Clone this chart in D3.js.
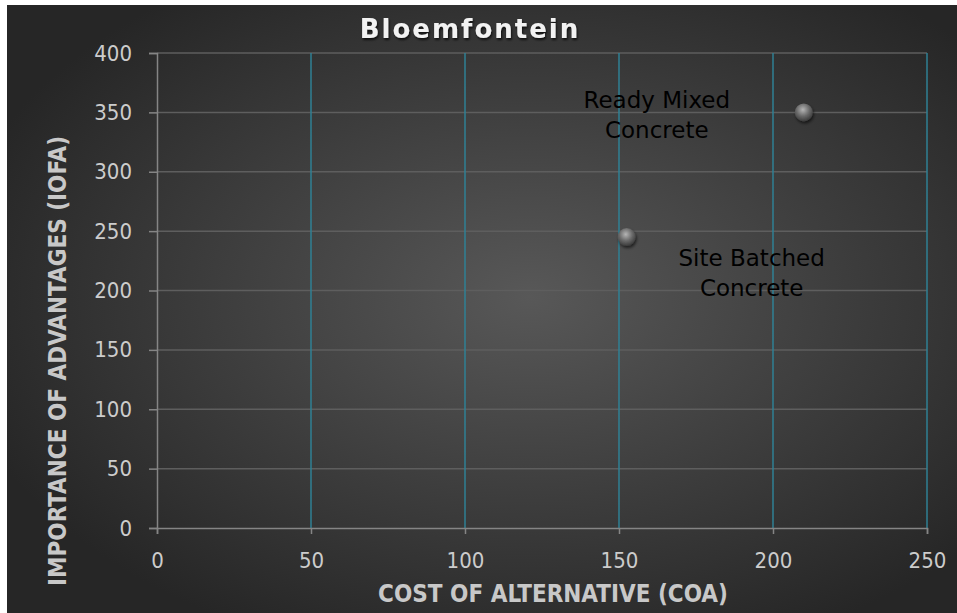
<!DOCTYPE html>
<html>
<head>
<meta charset="utf-8">
<script src="https://cdn.jsdelivr.net/npm/d3@7"></script>
<style>
  html, body { margin: 0; padding: 0; background: #ffffff; }
  svg { display: block; }
</style>
</head>
<body>
<svg id="chart" width="957" height="613"></svg>
<script>
// Alternatives plotted: cost of alternative (COA) vs importance of advantages (IOFA)
const names = ["Ready Mixed Concrete", "Site Batched Concrete"];
const coa = [210, 152.5];
const iofa = [350, 245];
const xTicks = [0, 50, 100, 150, 200, 250];
const yTicks = [0, 50, 100, 150, 200, 250, 300, 350, 400];

const W = 957, H = 613;
const margin = { left: 157, right: 30, top: 53, bottom: 85 };

const svg = d3.select("#chart");
const defs = svg.append("defs");

// Dark backdrop, lighter toward the middle
const bg = defs.append("radialGradient").attr("id", "bg")
  .attr("cx", "55%").attr("cy", "48%").attr("r", "62%");
bg.append("stop").attr("offset", "0%").attr("stop-color", "#585858");
bg.append("stop").attr("offset", "100%").attr("stop-color", "#262626");

// Marker shading
const ball = defs.append("radialGradient").attr("id", "ball")
  .attr("cx", "45%").attr("cy", "35%").attr("r", "65%");
ball.append("stop").attr("offset", "0%").attr("stop-color", "#b5b5b5");
ball.append("stop").attr("offset", "55%").attr("stop-color", "#6a6a6a");
ball.append("stop").attr("offset", "100%").attr("stop-color", "#3a3a3a");

const shadow = defs.append("filter").attr("id", "shadow")
  .attr("x", "-50%").attr("y", "-50%").attr("width", "200%").attr("height", "200%");
shadow.append("feDropShadow").attr("dx", 1).attr("dy", 2).attr("stdDeviation", 1.5)
  .attr("flood-color", "#000").attr("flood-opacity", 0.6);

const tshadow = defs.append("filter").attr("id", "tshadow");
tshadow.append("feDropShadow").attr("dx", 1).attr("dy", 2).attr("stdDeviation", 1.2)
  .attr("flood-color", "#000").attr("flood-opacity", 0.7);

svg.append("rect").attr("x", 7).attr("y", 5).attr("width", W - 7).attr("height", H - 5)
  .attr("fill", "url(#bg)");

const x = d3.scaleLinear().domain([0, 250]).range([margin.left, W - margin.right]);
const y = d3.scaleLinear().domain([0, 400]).range([H - margin.bottom, margin.top]);

// Horizontal gridlines
svg.append("g").selectAll("line").data(yTicks.filter(d => d > 0)).join("line")
  .attr("x1", x(0)).attr("x2", x(250))
  .attr("y1", d => y(d)).attr("y2", d => y(d))
  .attr("stroke", "#5e5e5e").attr("stroke-width", 1.5);

// Vertical gridlines
svg.append("g").selectAll("line").data(xTicks.filter(d => d > 0)).join("line")
  .attr("x1", d => x(d)).attr("x2", d => x(d))
  .attr("y1", y(400)).attr("y2", y(0))
  .attr("stroke", "#2f8094").attr("stroke-width", 1.5);

const fontTick = "'DejaVu Sans Condensed', 'DejaVu Sans', sans-serif";

// Axes
const xAxis = svg.append("g").attr("transform", `translate(0,${y(0)})`)
  .call(d3.axisBottom(x).tickValues(xTicks).tickSize(6).tickPadding(18));
const yAxis = svg.append("g").attr("transform", `translate(${x(0)},0)`)
  .call(d3.axisLeft(y).tickValues(yTicks).tickSize(8).tickPadding(17));

[xAxis, yAxis].forEach(g => {
  g.select(".domain").attr("stroke", "#858585").attr("stroke-width", 1.5);
  g.selectAll(".tick line").attr("stroke", "#858585").attr("stroke-width", 1.5);
  g.selectAll(".tick text").attr("fill", "#cccccc")
    .attr("font-family", fontTick).attr("font-size", 22);
});

// Title
svg.append("text").attr("x", 470).attr("y", 38).attr("text-anchor", "middle")
  .attr("fill", "#f2f2f2").attr("font-family", "'DejaVu Sans', sans-serif")
  .attr("font-weight", "bold").attr("font-size", 26).attr("letter-spacing", 2)
  .attr("filter", "url(#tshadow)").text("Bloemfontein");

// Axis titles
svg.append("text").attr("x", 553).attr("y", 602).attr("text-anchor", "middle")
  .attr("fill", "#c8c8c8").attr("font-family", fontTick)
  .attr("font-weight", "bold").attr("font-size", 24)
  .text("COST OF ALTERNATIVE (COA)");

svg.append("text").attr("transform", "translate(66,361) rotate(-90)")
  .attr("text-anchor", "middle")
  .attr("fill", "#c8c8c8").attr("font-family", fontTick)
  .attr("font-weight", "bold").attr("font-size", 24)
  .text("IMPORTANCE OF ADVANTAGES (IOFA)");

// Points
svg.append("g").selectAll("circle").data(d3.range(names.length)).join("circle")
  .attr("cx", i => x(coa[i])).attr("cy", i => y(iofa[i])).attr("r", 9)
  .attr("fill", "url(#ball)").attr("filter", "url(#shadow)");

// Data labels, offset from their markers
const labelOffsets = [[-147, -4], [125, 29]];
const labels = svg.append("g").selectAll("text").data(d3.range(names.length)).join("text")
  .attr("text-anchor", "middle")
  .attr("font-family", "'DejaVu Sans', sans-serif").attr("font-size", 23)
  .attr("fill", "#000000");
labels.each(function (i) {
  const words = names[i].split(" ");
  const lines = [words.slice(0, words.length - 1).join(" "), words[words.length - 1]];
  const cx = x(coa[i]) + labelOffsets[i][0];
  const cy = y(iofa[i]) + labelOffsets[i][1];
  d3.select(this).selectAll("tspan").data(lines).join("tspan")
    .attr("x", cx).attr("y", (d, k) => cy + k * 30)
    .text(d => d);
});
</script>
</body>
</html>
